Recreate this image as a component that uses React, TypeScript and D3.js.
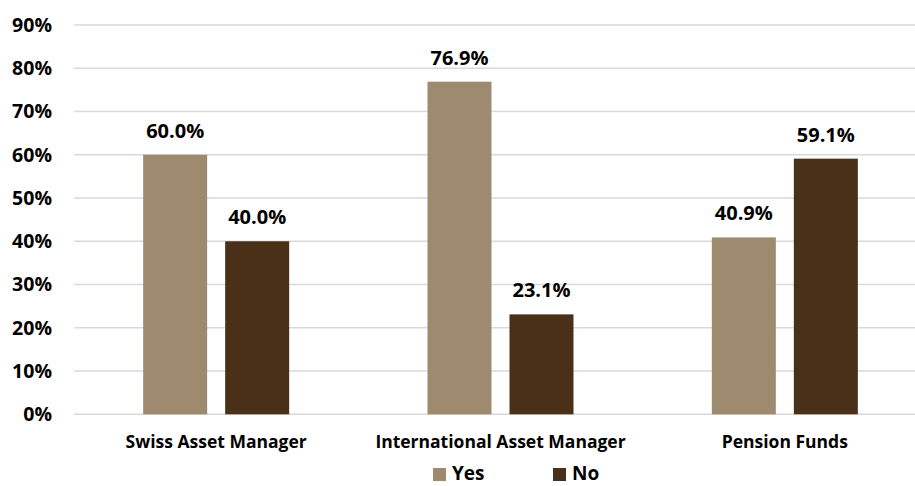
import React from "react";
import * as d3 from "d3";

const categories = ["Swiss Asset Manager", "International Asset Manager", "Pension Funds"];
const seriesNames = ["Yes", "No"];
const yesValues = [60.0, 76.9, 40.9];
const noValues = [40.0, 23.1, 59.1];
const yTicks = [0, 10, 20, 30, 40, 50, 60, 70, 80, 90];
const colors = ["#9e8b6f", "#4a2f19"];

const W = 915;
const H = 486;
const FONT = "'Open Sans', 'DejaVu Sans', sans-serif";

export default function App() {
  const x0 = d3.scaleBand<string>().domain(categories).range([74, 927]).padding(0);
  const groupW = 146;
  const x1 = d3.scaleBand<string>().domain(seriesNames).range([0, groupW]).paddingInner(0.2195).paddingOuter(0);
  const y = d3.scaleLinear().domain([0, 90]).range([414.3, 25]);
  const series = [yesValues, noValues];

  return (
    <svg width={W} height={H} style={{ position: "absolute", left: 0, top: 0, background: "#fff" }} fontFamily={FONT}>
      {yTicks.map((t) => (
        <g key={t}>
          <line x1={74} x2={927} y1={y(t)} y2={y(t)} stroke="#d9d9d9" strokeWidth={1.5} />
          <text x={52} y={y(t)} dy="0.35em" textAnchor="end" fontSize={19.5} fontWeight={700} fill="#000">
            {t}%
          </text>
        </g>
      ))}
      {categories.map((c, i) => {
        const gx = (x0(c) as number) + (x0.bandwidth() - groupW) / 2;
        return (
          <g key={c}>
            {seriesNames.map((s, j) => {
              const v = series[j][i];
              const bx = gx + (x1(s) as number);
              return (
                <g key={s}>
                  <rect x={bx} y={y(v)} width={x1.bandwidth()} height={y(0) - y(v)} fill={colors[j]} />
                  <text x={bx + x1.bandwidth() / 2} y={y(v) - 17} textAnchor="middle" fontSize={20} fontWeight={700} fill="#000">
                    {v.toFixed(1)}%
                  </text>
                </g>
              );
            })}
            <text x={(x0(c) as number) + x0.bandwidth() / 2} y={448} textAnchor="middle" fontSize={17.5} fontWeight={700} fill="#000">
              {c}
            </text>
          </g>
        );
      })}
      {seriesNames.map((s, j) => {
        const lx = [433, 553][j];
        return (
          <g key={s}>
            <rect x={lx} y={468} width={13} height={13} fill={colors[j]} />
            <text x={lx + 19} y={480} fontSize={19} fontWeight={700} fill="#000">
              {s}
            </text>
          </g>
        );
      })}
    </svg>
  );
}
